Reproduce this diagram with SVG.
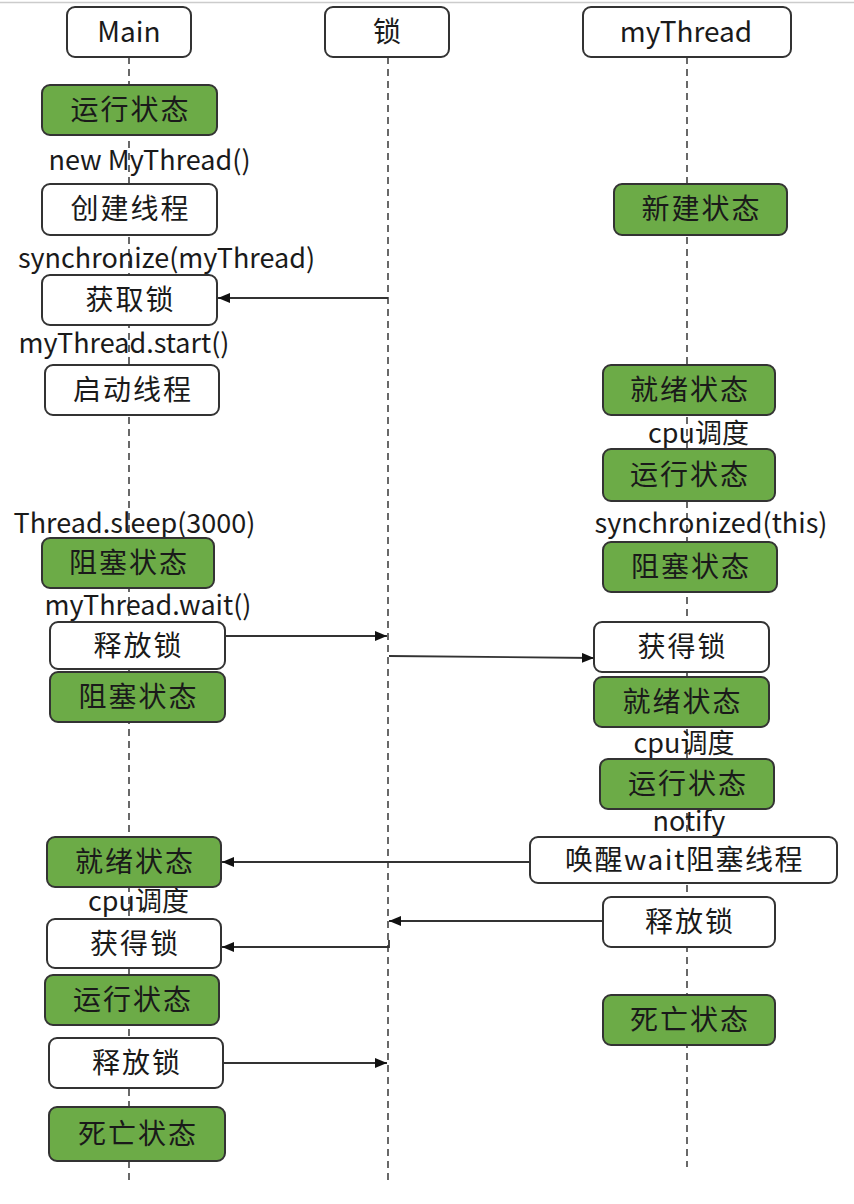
<svg xmlns="http://www.w3.org/2000/svg" width="854" height="1204" viewBox="0 0 854 1204">
<defs>
<style>
.box{stroke:#333;stroke-width:2;}
.g{fill:#6cab47;}
.w{fill:#fff;}
.t{font-family:"Noto Sans CJK SC","Noto Sans",sans-serif;font-size:28px;fill:#1a1a1a;text-anchor:middle;}
.cj{letter-spacing:2px;}
.lbl{font-family:"Noto Sans CJK SC","Noto Sans",sans-serif;font-size:27px;fill:#1a1a1a;text-anchor:middle;}
.life{stroke:#444;stroke-width:1.6;stroke-dasharray:7 5;fill:none;}
.arr{stroke:#333;stroke-width:1.8;fill:none;marker-end:url(#ah);}
</style>
<marker id="ah" markerUnits="userSpaceOnUse" markerWidth="14" markerHeight="12" refX="12" refY="5" orient="auto">
<path d="M0,0 L12,5 L0,10 z" fill="#111"/>
</marker>
</defs>
<rect width="854" height="1204" fill="#fff"/>
<line x1="0" y1="2.5" x2="854" y2="2.5" stroke="#ccc" stroke-width="1.5"/>

<g id="lifelines">
<line class="life" x1="129" y1="57" x2="129" y2="1185"/>
<line class="life" x1="388" y1="57" x2="388" y2="1185"/>
<line class="life" x1="687" y1="57" x2="687" y2="1167"/>
</g>

<g id="labels">
<text class="lbl" x="149.5" y="170">new MyThread()</text>
<text class="lbl" x="166.5" y="268">synchronize(myThread)</text>
<text class="lbl" x="124" y="353">myThread.start()</text>
<text class="lbl" x="134.5" y="533">Thread.sleep(3000)</text>
<text class="lbl" x="148" y="615">myThread.wait()</text>
<text class="lbl" x="138.5" y="911">cpu调度</text>
<text class="lbl" x="698.5" y="443">cpu调度</text>
<text class="lbl" x="711" y="533">synchronized(this)</text>
<text class="lbl" x="684" y="753">cpu调度</text>
<text class="lbl" x="689" y="831">notify</text>
</g>

<g id="head-main"><rect class="box w" x="67" y="7" width="124" height="50" rx="8"/><text class="t" x="129" y="42">Main</text></g>
<g id="head-lock"><rect class="box w" x="325" y="7" width="124" height="50" rx="8"/><text class="t" x="387" y="42">锁</text></g>
<g id="head-mythread"><rect class="box w" x="583" y="7" width="208" height="50" rx="8"/><text class="t" x="686" y="42">myThread</text></g>

<g id="m-run1"><rect class="box g" x="42" y="85" width="175" height="50" rx="8"/><text class="t cj" x="130.5" y="120">运行状态</text></g>
<g id="m-create"><rect class="box w" x="42" y="184" width="175" height="51" rx="8"/><text class="t cj" x="130.5" y="219">创建线程</text></g>
<g id="m-acquire"><rect class="box w" x="42" y="275" width="175" height="50" rx="8"/><text class="t cj" x="130.5" y="310">获取锁</text></g>
<g id="m-start"><rect class="box w" x="45" y="365" width="174" height="50" rx="8"/><text class="t cj" x="133" y="400">启动线程</text></g>
<g id="m-block1"><rect class="box g" x="42" y="538" width="172" height="50" rx="8"/><text class="t cj" x="129" y="573">阻塞状态</text></g>
<g id="m-release1"><rect class="box w" x="50" y="622" width="175" height="47" rx="8"/><text class="t cj" x="138.5" y="656">释放锁</text></g>
<g id="m-block2"><rect class="box g" x="50" y="672" width="175" height="50" rx="8"/><text class="t cj" x="138.5" y="707">阻塞状态</text></g>
<g id="m-ready"><rect class="box g" x="47" y="837" width="174" height="50" rx="8"/><text class="t cj" x="135" y="872">就绪状态</text></g>
<g id="m-get"><rect class="box w" x="47" y="919" width="174" height="49" rx="8"/><text class="t cj" x="135" y="954">获得锁</text></g>
<g id="m-run2"><rect class="box g" x="45" y="975" width="174" height="50" rx="8"/><text class="t cj" x="133" y="1010">运行状态</text></g>
<g id="m-release2"><rect class="box w" x="49" y="1038" width="174" height="50" rx="8"/><text class="t cj" x="137" y="1073">释放锁</text></g>
<g id="m-dead"><rect class="box g" x="49" y="1107" width="176" height="54" rx="8"/><text class="t cj" x="138" y="1144">死亡状态</text></g>

<g id="t-new"><rect class="box g" x="614" y="184" width="173" height="51" rx="8"/><text class="t cj" x="701.5" y="219">新建状态</text></g>
<g id="t-ready1"><rect class="box g" x="603" y="365" width="172" height="50" rx="8"/><text class="t cj" x="690" y="400">就绪状态</text></g>
<g id="t-run1"><rect class="box g" x="603" y="449" width="172" height="52" rx="8"/><text class="t cj" x="690" y="485">运行状态</text></g>
<g id="t-block"><rect class="box g" x="603" y="542" width="174" height="50" rx="8"/><text class="t cj" x="691" y="577">阻塞状态</text></g>
<g id="t-get"><rect class="box w" x="594" y="622" width="175" height="50" rx="8"/><text class="t cj" x="682.5" y="657">获得锁</text></g>
<g id="t-ready2"><rect class="box g" x="594" y="677" width="175" height="50" rx="8"/><text class="t cj" x="682.5" y="712">就绪状态</text></g>
<g id="t-run2"><rect class="box g" x="600" y="759" width="174" height="50" rx="8"/><text class="t cj" x="688" y="794">运行状态</text></g>
<g id="t-notify"><rect class="box w" x="530" y="837" width="307" height="46" rx="8"/><text class="t" x="684.5" y="870" letter-spacing="1.5">唤醒wait阻塞线程</text></g>
<g id="t-release"><rect class="box w" x="603" y="897" width="172" height="50" rx="8"/><text class="t cj" x="690" y="932">释放锁</text></g>
<g id="t-dead"><rect class="box g" x="603" y="995" width="172" height="50" rx="8"/><text class="t cj" x="690" y="1030">死亡状态</text></g>

<g id="connectors">
<line class="arr" x1="388" y1="298" x2="218" y2="298"/>
<line class="arr" x1="225" y1="636" x2="387" y2="636"/>
<path class="arr" d="M389,656 L594,658"/>
<line class="arr" x1="530" y1="862" x2="222" y2="862"/>
<line class="arr" x1="603" y1="921" x2="389" y2="921"/>
<path class="arr" d="M389,940 L389,947 L222,947"/>
<line class="arr" x1="223" y1="1063" x2="387" y2="1063"/>
</g>
</svg>
